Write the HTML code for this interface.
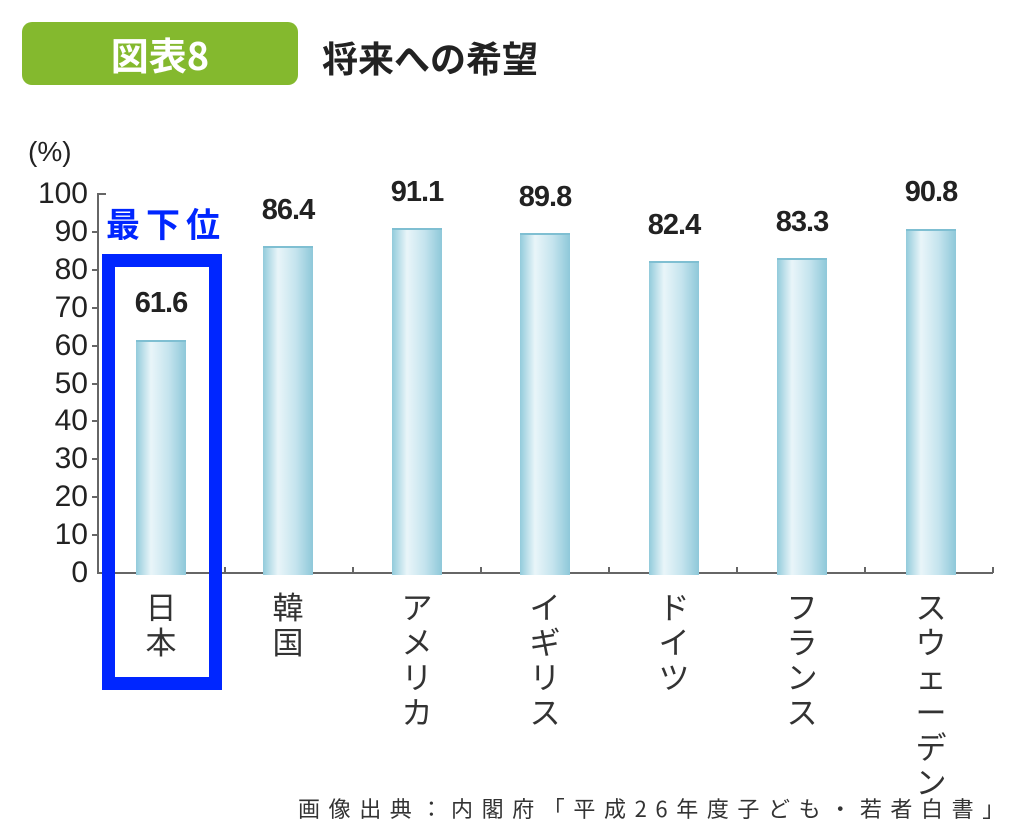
<!DOCTYPE html>
<html><head><meta charset="utf-8"><style>
body{margin:0;background:#fff;width:1030px;height:838px;overflow:hidden;position:relative;font-family:"Liberation Sans","Noto Sans CJK JP",sans-serif}
.a{position:absolute}
.bar{position:absolute;width:50px;background:linear-gradient(90deg,#92cbdb 0%,#e9f5f9 30%,#c5e4ee 65%,#8ec8d9 100%);border-top:2px solid #7fbfd2}
.v{position:absolute;width:120px;text-align:center;font-size:29px;font-weight:bold;color:#222;letter-spacing:-1px}
.t{position:absolute;right:942px;font-size:30px;color:#222;text-align:right;line-height:30px}
.c{position:absolute;width:60px;text-align:center;font-size:31px;line-height:35px;color:#333;font-family:"Noto Sans CJK JP",sans-serif}
</style></head><body>
<div class="a" style="left:22px;top:22px;width:276px;height:63px;background:#84b92e;border-radius:10px"></div>
<div class="a" style="left:22px;top:22px;width:276px;height:63px;line-height:63px;text-align:center;color:#fff;font-size:38px;font-weight:bold;font-family:'Noto Sans CJK JP',sans-serif">図表8</div>
<div class="a" style="left:322px;top:32px;font-size:36px;color:#222;font-family:'Noto Sans CJK JP',sans-serif;line-height:50px;font-weight:bold">将来への希望</div>
<div class="a" style="left:28px;top:136px;font-size:28px;color:#222">(%)</div>
<svg class="a" style="left:0;top:0" width="1030" height="838">
<g stroke="#666" stroke-width="2" fill="none">
<line x1="98" y1="193" x2="98" y2="574"/><line x1="97" y1="573" x2="993" y2="573"/>
<line x1="98" y1="194" x2="106" y2="194"/>
</g>
<g stroke="#666" stroke-width="2">
<line x1="92" y1="232" x2="98" y2="232"/><line x1="92" y1="270" x2="98" y2="270"/><line x1="92" y1="308" x2="98" y2="308"/><line x1="92" y1="346" x2="98" y2="346"/><line x1="92" y1="384" x2="98" y2="384"/><line x1="92" y1="421" x2="98" y2="421"/><line x1="92" y1="459" x2="98" y2="459"/><line x1="92" y1="497" x2="98" y2="497"/><line x1="92" y1="535" x2="98" y2="535"/>
<line x1="225" y1="567" x2="225" y2="573"/><line x1="353" y1="567" x2="353" y2="573"/><line x1="481" y1="567" x2="481" y2="573"/><line x1="609" y1="567" x2="609" y2="573"/><line x1="737" y1="567" x2="737" y2="573"/><line x1="865" y1="567" x2="865" y2="573"/><line x1="993" y1="567" x2="993" y2="573"/>
</g></svg>
<div class="t" style="top:179px">100</div><div class="t" style="top:217px">90</div><div class="t" style="top:255px">80</div><div class="t" style="top:293px">70</div><div class="t" style="top:331px">60</div><div class="t" style="top:369px">50</div><div class="t" style="top:406px">40</div><div class="t" style="top:444px">30</div><div class="t" style="top:482px">20</div><div class="t" style="top:520px">10</div><div class="t" style="top:558px">0</div>
<div class="bar" style="left:136px;top:340px;height:233px"></div>
<div class="bar" style="left:263px;top:246px;height:327px"></div>
<div class="bar" style="left:392px;top:228px;height:345px"></div>
<div class="bar" style="left:520px;top:233px;height:340px"></div>
<div class="bar" style="left:649px;top:261px;height:312px"></div>
<div class="bar" style="left:777px;top:258px;height:315px"></div>
<div class="bar" style="left:906px;top:229px;height:344px"></div>
<div class="v" style="left:101px;top:287px">61.6</div>
<div class="v" style="left:228px;top:194px">86.4</div>
<div class="v" style="left:357px;top:176px">91.1</div>
<div class="v" style="left:485px;top:181px">89.8</div>
<div class="v" style="left:614px;top:209px">82.4</div>
<div class="v" style="left:742px;top:206px">83.3</div>
<div class="v" style="left:871px;top:176px">90.8</div>
<div class="a" style="left:102px;top:254px;width:94px;height:410px;border:13px solid #0026ff"></div>
<div class="a" style="left:106px;top:200px;font-size:34px;font-weight:bold;color:#0026ff;letter-spacing:6px;font-family:'Noto Sans CJK JP',sans-serif;line-height:46px">最下位</div>
<div class="c" style="left:131px;top:588px">日<br>本</div>
<div class="c" style="left:258px;top:588px">韓<br>国</div>
<div class="c" style="left:387px;top:588px">ア<br>メ<br>リ<br>カ</div>
<div class="c" style="left:515px;top:588px">イ<br>ギ<br>リ<br>ス</div>
<div class="c" style="left:644px;top:588px">ド<br>イ<br>ツ</div>
<div class="c" style="left:772px;top:588px">フ<br>ラ<br>ン<br>ス</div>
<div class="c" style="left:901px;top:588px">ス<br>ウ<br>ェ<br>ー<br>デ<br>ン</div>
<div class="a" style="left:298px;top:792px;font-size:22px;color:#333;letter-spacing:8.6px;font-family:'Noto Sans CJK JP',sans-serif;white-space:nowrap">画像出典：内閣府「平成26年度子ども・若者白書」</div>
</body></html>
